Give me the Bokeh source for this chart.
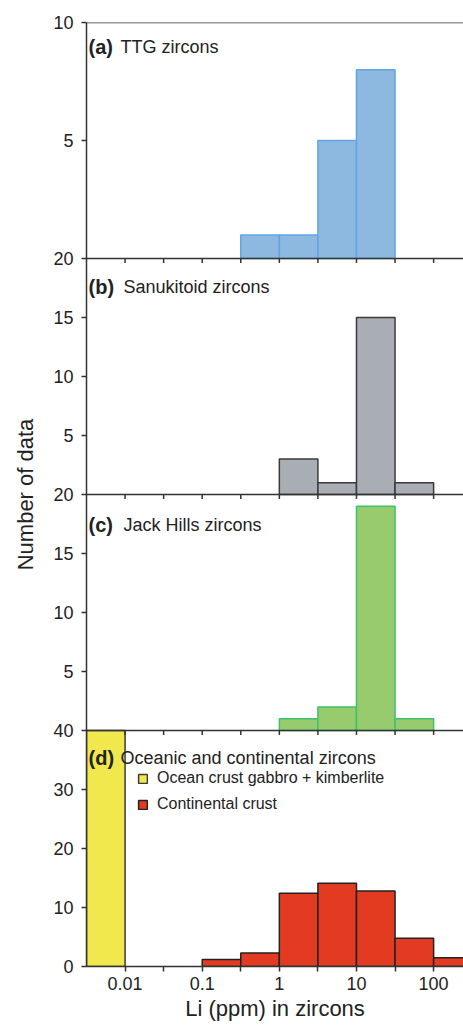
from bokeh.plotting import figure
from bokeh.models import Range1d, FixedTicker, Span, Label, Legend, LegendItem
from bokeh.embed import file_html
from bokeh.resources import INLINE

# ---------------- data ----------------
# half-decade bins of Li (ppm)
ttg_lo = [0.3162, 1.0, 3.162, 10.0]
ttg_hi = [1.0, 3.162, 10.0, 31.62]
ttg_n = [1, 1, 5, 8]

san_lo = [1.0, 3.162, 10.0, 31.62]
san_hi = [3.162, 10.0, 31.62, 100.0]
san_n = [3, 1, 15, 1]

jh_lo = [1.0, 3.162, 10.0, 31.62]
jh_hi = [3.162, 10.0, 31.62, 100.0]
jh_n = [1, 2, 19, 1]

ocean_lo = [0.003162]
ocean_hi = [0.01]
ocean_n = [40]

cont_lo = [0.1, 0.3162, 1.0, 3.162, 10.0, 31.62, 100.0]
cont_hi = [0.3162, 1.0, 3.162, 10.0, 31.62, 100.0, 316.2]
cont_n = [1.2, 2.3, 12.4, 14.1, 12.8, 4.8, 1.5]

x_ticks = [0.01, 0.03162, 0.1, 0.3162, 1.0, 3.162, 10.0, 31.62, 100.0]
x_tick_labels = ["0.01", "", "0.1", "", "1", "", "10", "", "100"]

panel_tags = ["(a)", "(b)", "(c)", "(d)"]
panel_titles = ["TTG zircons", "Sanukitoid zircons", "Jack Hills zircons",
                "Oceanic and continental zircons"]
panel_ticks = [[5, 10], [5, 10, 15, 20], [5, 10, 15, 20], [0, 10, 20, 30, 40]]
legend_labels = ["Ocean crust gabbro + kimberlite", "Continental crust"]

# ---------------- layout (stacked panels on a shared frame) ----------------
# each panel: base position and scale, in units of the bottom panel's y-axis
panel_base = [120, 80, 40, 0]
panel_scale = [4, 2, 2, 1]
panel_top = [10, 20, 20, 40]
panel_names = ["a", "b", "c", "d"]
YTOP = 160

FONT = "Liberation Sans"
TXT = "#222222"
AX = "#333333"

p = figure(width=463, height=1026, output_backend="svg", toolbar_location=None,
           x_axis_type="log", x_range=Range1d(0.003162, 244.0),
           y_range=Range1d(0, YTOP),
           min_border_left=86, min_border_right=0, min_border_top=22,
           min_border_bottom=60)
p.outline_line_color = None
p.grid.visible = False
p.background_fill_color = "white"
p.border_fill_color = "white"

for name, base, sc in zip(panel_names, panel_base, panel_scale):
    p.extra_y_ranges[name] = Range1d((0 - base) / sc, (YTOP - base) / sc)

# bars
def bars(lo, hi, n, rng, fill, line):
    return p.quad(left=lo, right=hi, bottom=0, top=n, y_range_name=rng,
                  fill_color=fill, line_color=line, line_width=1.5)

bars(ttg_lo, ttg_hi, ttg_n, "a", "#8DB8E0", "#5FA6E3")
bars(san_lo, san_hi, san_n, "b", "#A9AEB5", "#3A3A3A")
bars(jh_lo, jh_hi, jh_n, "c", "#98CB6E", "#3CC46C")
r_ocean = bars(ocean_lo, ocean_hi, ocean_n, "d", "#F0E84C", "#3A3A3A")
r_cont = bars(cont_lo, cont_hi, cont_n, "d", "#E33B22", "#222222")

# panel separators
for name in panel_names[:3]:
    p.add_layout(Span(location=0, dimension="width", y_range_name=name,
                      line_color=AX, line_width=1.5))
p.add_layout(Span(location=YTOP, dimension="width", line_color=AX, line_width=1.5))

# tick marks under each separator
for name, sc in zip(panel_names[:3], panel_scale[:3]):
    p.segment(x0=x_ticks, x1=x_ticks, y0=[0] * len(x_ticks),
              y1=[-0.75 / sc] * len(x_ticks), y_range_name=name,
              line_color=AX, line_width=1.5)

# axes
xa = p.xaxis[0]
xa.ticker = FixedTicker(ticks=x_ticks, minor_ticks=[])
xa.major_label_overrides = dict(zip(x_ticks, x_tick_labels))
xa.axis_label = "Li (ppm) in zircons"

ya = p.yaxis[0]
y_pos, y_lab = [], []
for ticks, base, sc in zip(panel_ticks, panel_base, panel_scale):
    for t in ticks:
        y_pos.append(base + sc * t)
        y_lab.append(str(t))
ya.ticker = FixedTicker(ticks=y_pos, minor_ticks=[])
ya.major_label_overrides = dict(zip(y_pos, y_lab))
ya.axis_label = "Number of data"

for ax in (xa, ya):
    ax.axis_line_color = AX
    ax.axis_line_width = 1.5
    ax.major_tick_line_color = AX
    ax.major_tick_line_width = 1.5
    ax.major_tick_in = 0
    ax.major_tick_out = 5
    ax.major_label_text_font = FONT
    ax.major_label_text_font_size = "18px"
    ax.major_label_text_color = TXT
    ax.axis_label_text_font = FONT
    ax.axis_label_text_font_size = "22px"
    ax.axis_label_text_font_style = "normal"
    ax.axis_label_text_color = TXT
xa.major_label_standoff = 5
xa.axis_label_standoff = 3
ya.major_label_standoff = 8
ya.axis_label_standoff = 12

# panel titles
tag_dy = [24, 28, 30, 27]
title_dx = [34, 37, 37, 34]
for base, sc, top, tag, title, dy, dx in zip(panel_base, panel_scale, panel_top,
                                             panel_tags, panel_titles, tag_dy, title_dx):
    y = base + sc * top
    p.add_layout(Label(x=0.003162, y=y, x_offset=2, y_offset=-dy,
                       text=tag, text_font=FONT, text_font_size="20px",
                       text_font_style="bold", text_color=TXT,
                       text_baseline="alphabetic"))
    p.add_layout(Label(x=0.003162, y=y, x_offset=dx, y_offset=-dy,
                       text=title, text_font=FONT, text_font_size="18px",
                       text_color=TXT, text_baseline="alphabetic"))

legend = Legend(items=[LegendItem(label=legend_labels[0], renderers=[r_ocean]),
                       LegendItem(label=legend_labels[1], renderers=[r_cont])],
                location=(51, 152), orientation="vertical",
                glyph_width=11, glyph_height=11, label_standoff=9,
                label_height=20, spacing=6, padding=0, margin=0,
                label_text_font=FONT, label_text_font_size="16px",
                label_text_color=TXT, border_line_color=None,
                background_fill_alpha=0)
p.add_layout(legend)

open("out.html", "w").write(file_html(p, INLINE))
